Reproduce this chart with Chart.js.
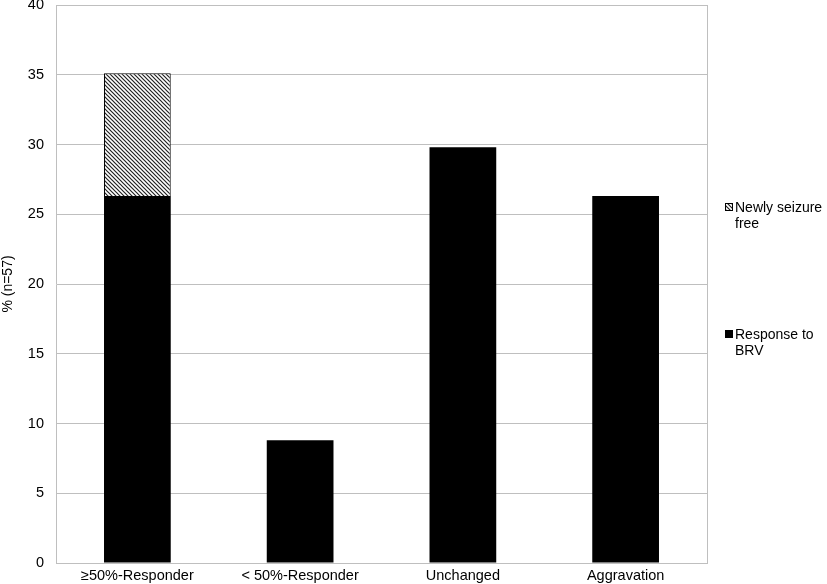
<!DOCTYPE html>
<html>
<head>
<meta charset="utf-8">
<script src="https://cdn.jsdelivr.net/npm/chart.js@4/dist/chart.umd.min.js"></script>
<style>
  html, body { margin: 0; padding: 0; background: #fff; }
  #wrap { width: 827px; height: 584px; }
</style>
</head>
<body>
<div id="wrap"><canvas id="brvChart"></canvas></div>
<script>
const categories = ['\u226550%-Responder', '< 50%-Responder', 'Unchanged', 'Aggravation'];
const responseToBrv = [26.3, 8.8, 29.8, 26.3];
const newlySeizureFree = [8.8, null, null, null];
const yTicks = [0, 5, 10, 15, 20, 25, 30, 35, 40];

const FONT = '"Liberation Sans", Arial, sans-serif';

function makeHatch() {
    const s = 4;
    const c = document.createElement('canvas');
    c.width = s; c.height = s;
    const g = c.getContext('2d');
    g.fillStyle = '#fff';
    g.fillRect(0, 0, s, s);
    g.strokeStyle = '#222';
    g.lineWidth = 1.2;
    g.beginPath();
    g.moveTo(-1, -1); g.lineTo(s + 1, s + 1);
    g.moveTo(-1, s - 1); g.lineTo(1, s + 1);
    g.moveTo(s - 1, -1); g.lineTo(s + 1, 1);
    g.stroke();
    return g.createPattern(c, 'repeat');
}

const hatch = makeHatch();

const sideLegend = {
    id: 'sideLegend',
    afterDraw(chart) {
        const ctx = chart.ctx;
        const area = chart.chartArea;
        ctx.save();
        // right border of plot
        ctx.strokeStyle = '#bfbfbf';
        ctx.lineWidth = 1;
        ctx.beginPath();
        ctx.moveTo(Math.round(area.right) + 0.5, area.top);
        ctx.lineTo(Math.round(area.right) + 0.5, area.bottom);
        ctx.stroke();

        const items = [
            { lines: ['Newly seizure', 'free'], y: 208, fill: hatch, border: true },
            { lines: ['Response to', 'BRV'], y: 335, fill: '#000', border: false }
        ];
        ctx.font = '14px ' + FONT;
        ctx.textBaseline = 'middle';
        ctx.fillStyle = '#000';
        items.forEach(it => {
            ctx.fillStyle = it.fill;
            ctx.fillRect(725, it.y - 5, 8, 8);
            if (it.border) {
                ctx.strokeStyle = '#000';
                ctx.strokeRect(725.5, it.y - 4.5, 7, 7);
            }
            ctx.fillStyle = '#000';
            it.lines.forEach((t, i) => ctx.fillText(t, 735, it.y + i * 16));
        });
        ctx.restore();
    }
};

new Chart(document.getElementById('brvChart'), {
    type: 'bar',
    data: {
        labels: categories,
        datasets: [{
            label: 'Response to BRV',
            data: responseToBrv,
            backgroundColor: '#000',
            borderWidth: 0,
            barPercentage: 0.41,
            categoryPercentage: 1
        }, {
            label: 'Newly seizure free',
            data: newlySeizureFree,
            backgroundColor: hatch,
            borderColor: '#000',
            borderWidth: 1,
            barPercentage: 0.41,
            categoryPercentage: 1
        }]
    },
    options: {
        responsive: true,
        maintainAspectRatio: false,
        animation: false,
        layout: { padding: { left: 0, right: 120, top: 5, bottom: 0 } },
        plugins: {
            legend: { display: false },
            tooltip: { enabled: false }
        },
        scales: {
            x: {
                stacked: true,
                grid: { display: false, drawTicks: false },
                border: { color: '#bfbfbf' },
                ticks: { color: '#000', font: { family: FONT, size: 14.5 }, padding: 4, maxRotation: 0 },
                afterFit(scale) { scale.height = 21; scale.paddingLeft = 0; scale.paddingRight = 0; }
            },
            y: {
                stacked: true,
                min: 0,
                max: 40,
                afterBuildTicks(scale) { scale.ticks = yTicks.map(v => ({ value: v })); },
                grid: { color: '#bfbfbf', drawTicks: false },
                border: { color: '#bfbfbf' },
                ticks: { color: '#000', font: { family: FONT, size: 14.5 }, padding: 12 },
                title: { display: true, text: '% (n=57)', color: '#000', font: { family: FONT, size: 14 }, padding: 0 },
                afterFit(scale) { scale.width = 56; scale.paddingTop = 0; scale.paddingBottom = 0; }
            }
        }
    },
    plugins: [sideLegend]
});
</script>
</body>
</html>
